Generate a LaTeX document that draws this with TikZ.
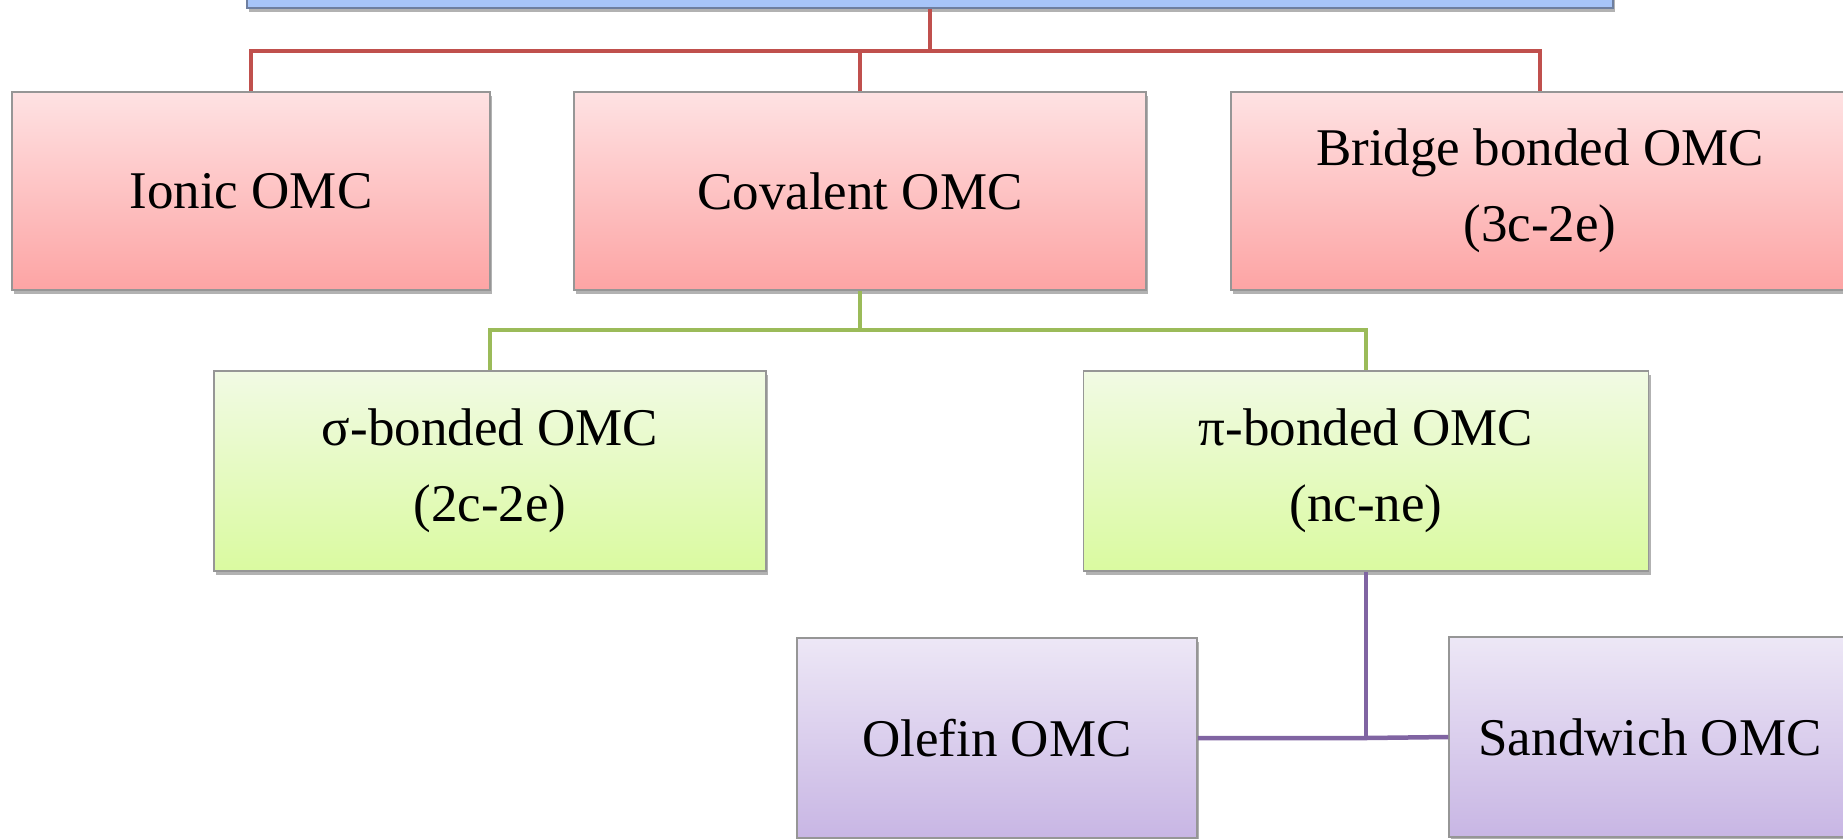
\documentclass[tikz,border=0pt]{standalone}
\usepackage{fontspec}
\setmainfont{Liberation Serif}
\usetikzlibrary{shadows}
\definecolor{redtop}{RGB}{254,226,227}
\definecolor{redbot}{RGB}{253,164,164}
\definecolor{greentop}{RGB}{241,250,228}
\definecolor{greenbot}{RGB}{218,250,160}
\definecolor{purptop}{RGB}{237,231,246}
\definecolor{purpbot}{RGB}{200,182,228}
\definecolor{bluefill}{RGB}{167,197,249}
\definecolor{blueedge}{RGB}{110,127,160}
\definecolor{redline}{RGB}{192,80,77}
\definecolor{greenline}{RGB}{155,187,89}
\definecolor{purpline}{RGB}{128,100,162}
\definecolor{boxedge}{RGB}{150,150,150}
\tikzset{
  box/.style={rectangle, draw=boxedge, line width=1.5pt, align=center,
    font=\fontsize{53}{76}\selectfont, inner sep=0pt,
    drop shadow={shadow xshift=2pt, shadow yshift=-4pt, opacity=0.3, fill=black}},
  redbox/.style={box, top color=redtop, bottom color=redbot, minimum height=198pt},
  greenbox/.style={box, top color=greentop, bottom color=greenbot, minimum height=200pt},
  purpbox/.style={box, top color=purptop, bottom color=purpbot, minimum height=200pt},
  bluebox/.style={box, fill=bluefill, draw=blueedge},
  redconn/.style={draw=redline, line width=4.5pt},
  greenconn/.style={draw=greenline, line width=4.5pt},
  purpconn/.style={draw=purpline, line width=4.5pt},
}
\begin{document}
\begin{tikzpicture}[x=1pt, y=-1pt]
\useasboundingbox (0,0) rectangle (1843,838);
\clip (0,0) rectangle (1843,838);
% root
\node[bluebox, minimum width=1366pt, minimum height=60pt] (root) at (930,-22) {};
% level 1
\node[redbox, minimum width=478pt] (ionic) at (251,191) {Ionic OMC};
\node[redbox, minimum width=572pt] (covalent) at (860,191) {Covalent OMC};
\node[redbox, minimum width=618pt] (bridge) at (1540,191) {Bridge bonded OMC\\(3c-2e)};
% level 2
\node[greenbox, minimum width=552pt] (sigma) at (490,471) {σ-bonded OMC\\(2c-2e)};
\node[greenbox, minimum width=565pt] (pi) at (1366,471) {π-bonded OMC\\(nc-ne)};
% level 3
\node[purpbox, minimum width=400pt] (olefin) at (997,738) {Olefin OMC};
\node[purpbox, minimum width=402pt] (sandwich) at (1650,737) {Sandwich OMC};
% red connectors
\path (root.south) ++(0,42) coordinate (rbar);
\draw[redconn] (root.south) -- (rbar);
\draw[redconn] (ionic.north) |- (rbar) -| (bridge.north);
\draw[redconn] (covalent.north) -- (covalent.north |- rbar);
% green connectors
\path (covalent.south) ++(0,39) coordinate (gbar);
\draw[greenconn] (covalent.south) -- (gbar);
\draw[greenconn] (sigma.north) |- (gbar) -| (pi.north);
% purple connectors
\coordinate (pj) at (pi.south |- olefin.east);
\draw[purpconn] (pi.south) -- (pj);
\draw[purpconn] (olefin.east) -- (pj) -- (sandwich.west);
\end{tikzpicture}
\end{document}
